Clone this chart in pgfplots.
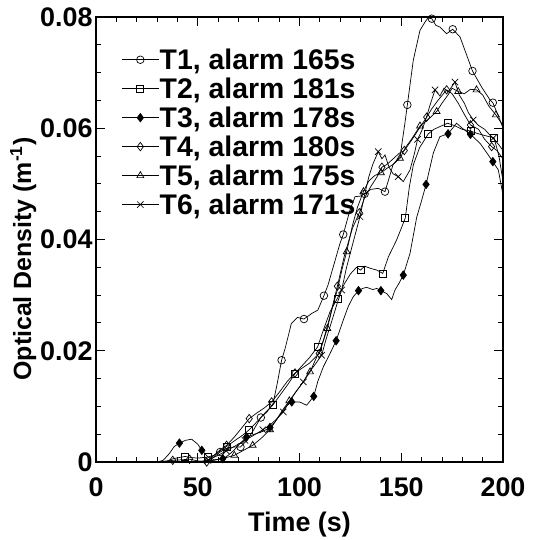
\documentclass[border=0pt]{standalone}
\usepackage{pgfplots}
\pgfplotsset{compat=1.18}
\usepackage{fontspec}
\setmainfont{Liberation Sans}
\begin{document}
\begin{tikzpicture}
\begin{axis}[
  scale only axis, width=407bp, height=445bp,
  xmin=0, xmax=200, ymin=0, ymax=0.08,
  xtick={0,50,100,150,200}, ytick={0,0.02,0.04,0.06,0.08},
  minor x tick num=4, minor y tick num=3,
  tick align=inside, major tick length=9bp, minor tick length=5bp,
  axis line style={line width=1.1bp}, every tick/.style={black, line width=0.9bp},
  scaled y ticks=false,
  yticklabel style={/pgf/number format/fixed, /pgf/number format/precision=2},
  /pgf/number format/assume math mode=true,
  tick label style={font=\fontsize{27}{27}\selectfont\bfseries},
  xticklabel style={yshift=-12bp},
  xlabel style={font=\fontsize{27}{27}\selectfont\bfseries, yshift=-9bp},
  ylabel style={font=\fontsize{25}{25}\selectfont\bfseries, at={(ticklabel cs:0.456)}, yshift=-3bp},
  xlabel={Time (s)}, ylabel={Optical Density (m\textsuperscript{-1})},
  legend style={draw=none, fill=none, at={(0.055,0.935)}, anchor=north west,
    font=\fontsize{28.5}{28.5}\selectfont\bfseries, row sep=5.7bp,
    nodes={inner sep=0.6bp}},
  legend cell align=left,
  legend image code/.code={\draw[mark repeat=2,mark phase=2] plot coordinates {(0cm,0cm) (0.65cm,0cm) (1.3cm,0cm)};},
  every axis plot/.append style={black, line width=0.7bp},
]
% ---------- T1 ----------
\addplot[no marks, forget plot] table {
50 0
55 0.0003
58 0.0009
61 0.0018
65 0.0026
68 0.0027
71 0.0027
74 0.0038
77 0.0055
81 0.008
84 0.009
87 0.0105
89 0.014
91.2 0.0183
93 0.0205
96 0.0249
99 0.026
102.2 0.0257
106 0.0267
109 0.0273
112 0.0299
114 0.0318
116.6 0.0351
119.9 0.0393
121.5 0.0409
124.8 0.0453
127.3 0.0477
130 0.0478
132 0.0482
135 0.049
138.7 0.0492
142 0.0486
144 0.051
146 0.0535
149.4 0.0549
151.8 0.0609
153 0.0642
155.9 0.0722
159.2 0.0776
161.7 0.0791
163 0.0798
165 0.0797
167 0.0785
169 0.0782
172.3 0.077
175.3 0.0778
178.9 0.0764
181.3 0.074
185 0.0703
189.5 0.0674
193.6 0.0651
195 0.0646
198.5 0.0615
200 0.06
};
\addplot[only marks, mark=o, mark size=3.8bp, forget plot] table {
61 0.0018
71 0.0027
81 0.008
91.2 0.0183
102.2 0.0257
112 0.0299
121.5 0.0409
132 0.0482
142 0.0486
153 0.0642
165 0.0797
175.3 0.0778
185 0.0703
195 0.0646
};
% ---------- T2 ----------
\addplot[no marks, forget plot] table {
30 0
35 0.0002
38 0.0006
43.7 0.001
47 0.0008
50 0.0007
55 0.0009
58 0.0012
61 0.002
64.2 0.0028
68 0.0038
72 0.0048
75.3 0.0058
79 0.0072
83 0.0088
86.8 0.0102
90 0.0118
94 0.0138
97.8 0.0159
101 0.0172
105 0.0188
108.9 0.0207
112 0.024
115 0.027
118.6 0.0294
122 0.032
125 0.0338
128 0.035
130 0.0345
132 0.0352
135 0.0348
138 0.0345
140.9 0.0339
143.7 0.0369
147.7 0.0399
150 0.042
152 0.0439
154 0.0495
156 0.0535
159 0.0565
163.3 0.059
166 0.0598
169 0.0603
172.8 0.0609
176 0.0605
180 0.0598
184 0.0595
188 0.059
192 0.0586
195.6 0.0583
198 0.055
200 0.0505
};
\addplot[only marks, mark=square, mark size=3.5bp, forget plot] table {
43.7 0.001
55 0.0009
64.2 0.0028
75.3 0.0058
86.8 0.0102
97.8 0.0159
108.9 0.0207
118.6 0.0294
130 0.0345
140.9 0.0339
152 0.0439
163.3 0.059
172.8 0.0609
184 0.0595
195.6 0.0583
};
% ---------- T3 ----------
\addplot[no marks, forget plot] table {
30 0
33 0.0003
36 0.0015
38.5 0.0028
41 0.0034
44 0.0039
47 0.0041
50 0.0032
52 0.0021
55 0.0009
58 0.0004
62.3 0.0006
65 0.0012
68 0.0022
71 0.0034
74 0.0045
78 0.005
82 0.0055
85.5 0.0062
88 0.0072
91 0.0088
94 0.0102
96.2 0.0108
100 0.0108
103.5 0.0102
107 0.0118
109 0.0145
111.7 0.0171
115 0.0195
118 0.0218
121.5 0.0255
124 0.028
126.4 0.0297
129 0.0308
131 0.0312
133 0.0314
136 0.031
138 0.0312
140 0.0308
142.8 0.0303
145.3 0.0292
146.9 0.0309
149 0.0322
151 0.0336
154.3 0.0375
157.6 0.044
160 0.047
162.2 0.0499
165.8 0.0556
169 0.0585
173 0.059
177.2 0.0609
180 0.06
184 0.0589
188.7 0.0573
192 0.0556
195 0.054
197.7 0.0525
200 0.048
};
\addplot[only marks, mark=diamond*, mark size=4.2bp, forget plot] table {
41 0.0034
52 0.0021
62.3 0.0006
74 0.0045
85.5 0.0062
96.2 0.0108
107 0.0118
118 0.0218
129 0.0308
140 0.0308
151 0.0336
162.2 0.0499
173 0.059
184 0.0589
195 0.054
};
% ---------- T4 ----------
\addplot[no marks, forget plot] table {
30 0
34 0.0001
37.7 0.0003
42 0.0004
46 0.0005
50 0.0002
54.4 0
58 0.0012
61 0.0022
64.2 0.003
68 0.0045
72 0.0063
75.3 0.0078
79 0.0088
83 0.0098
86.3 0.0108
90 0.0125
94 0.0145
97.8 0.016
101 0.0168
105 0.0178
109.7 0.0195
112 0.0222
115 0.0262
118.6 0.0316
122 0.037
126 0.042
129.4 0.0448
132 0.0475
135 0.0495
138 0.0512
140.5 0.053
143 0.0535
146 0.0545
149 0.0555
151.5 0.056
155 0.0578
158 0.0595
162.5 0.062
165 0.0635
168 0.065
172.3 0.0669
175 0.0662
178 0.0645
181 0.0625
184 0.0606
188 0.0598
191 0.058
194.4 0.0567
197 0.056
200 0.0545
};
\addplot[only marks, mark=diamond, mark size=4.2bp, forget plot] table {
37.7 0.0003
46 0.0005
54.4 0
64.2 0.003
75.3 0.0078
86.3 0.0108
97.8 0.016
109.7 0.0195
118.6 0.0316
129.4 0.0448
140.5 0.053
151.5 0.056
162.5 0.062
172.3 0.0669
184 0.0606
194.4 0.0567
};
% ---------- T5 ----------
\addplot[no marks, forget plot] table {
45 0
50 0.0001
55 0.0002
58 0.0003
62 0.0006
65 0.0009
68 0.0012
72 0.002
77 0.003
81 0.0042
85.5 0.0058
89 0.0078
92 0.0095
95 0.011
98 0.0125
102 0.0145
105.2 0.0162
108 0.0185
111 0.021
113.7 0.024
116 0.0275
119 0.0315
121 0.0348
123.2 0.0378
126 0.0425
128.5 0.0458
131.4 0.0486
134 0.0505
137 0.0515
140 0.052
143 0.0528
146 0.0535
149.4 0.0546
152 0.0565
155 0.058
159.2 0.0604
163 0.0615
167.4 0.063
170 0.0645
173 0.066
175 0.0672
178 0.0666
181 0.0662
184 0.067
187 0.0669
190 0.066
193 0.064
196.5 0.0624
200 0.0605
};
\addplot[only marks, mark=triangle, mark size=4bp, forget plot] table {
68 0.0012
77 0.003
85.5 0.0058
95 0.011
105.2 0.0162
113.7 0.024
123.2 0.0378
131.4 0.0486
140 0.052
149.4 0.0546
159.2 0.0604
167.4 0.063
178 0.0666
187 0.0669
196.5 0.0624
};
% ---------- T6 ----------
\addplot[no marks, forget plot] table {
50 0
55 0.0003
60 0.0012
64 0.002
68 0.0028
73.2 0.0039
77 0.0047
82 0.0058
86 0.0068
89 0.0078
92 0.009
95 0.0108
98 0.0125
101.9 0.0144
104 0.0158
107 0.0172
110.9 0.0192
113 0.022
116 0.0255
118.5 0.0285
120.7 0.0309
123 0.0348
126 0.039
129.7 0.0441
132 0.048
134 0.0512
136 0.0535
138.7 0.0558
140.5 0.0545
142 0.0552
144 0.053
146 0.0518
148.5 0.0513
151 0.0504
154.3 0.0525
156.5 0.0555
158 0.058
160 0.0595
162 0.0615
164 0.064
166.6 0.0669
169 0.0658
171 0.0672
173 0.0665
176.4 0.0683
178.5 0.066
181 0.0645
183 0.0628
185.4 0.0615
188 0.0605
191 0.0598
193 0.059
195.2 0.0582
198 0.057
200 0.056
};
\addplot[only marks, mark=x, mark size=4.5bp, forget plot] table {
55 0.0003
64 0.002
73.2 0.0039
82 0.0058
92 0.009
101.9 0.0144
110.9 0.0192
120.7 0.0309
129.7 0.0441
138.7 0.0558
148.5 0.0513
158 0.058
166.6 0.0669
176.4 0.0683
185.4 0.0615
195.2 0.0582
};
% ---------- legend ----------
\addlegendimage{black, line width=0.7bp, mark=o, mark size=3.8bp}
\addlegendentry{T1, alarm 165s}
\addlegendimage{black, line width=0.7bp, mark=square, mark size=3.5bp}
\addlegendentry{T2, alarm 181s}
\addlegendimage{black, line width=0.7bp, mark=diamond*, mark size=4.2bp}
\addlegendentry{T3, alarm 178s}
\addlegendimage{black, line width=0.7bp, mark=diamond, mark size=4.2bp}
\addlegendentry{T4, alarm 180s}
\addlegendimage{black, line width=0.7bp, mark=triangle, mark size=4bp}
\addlegendentry{T5, alarm 175s}
\addlegendimage{black, line width=0.7bp, mark=x, mark size=4.5bp}
\addlegendentry{T6, alarm 171s}
\end{axis}
\pgfresetboundingbox
\path ([shift={(-96bp,-78bp)}]current axis.south west) rectangle ([shift={(34bp,17bp)}]current axis.north east);
\end{tikzpicture}
\end{document}
